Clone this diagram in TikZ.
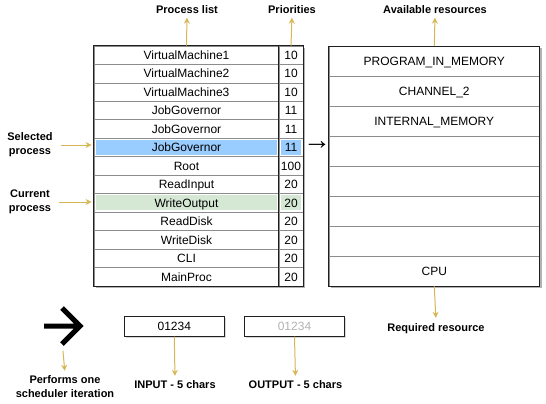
\documentclass[tikz,border=0pt]{standalone}
\usepackage{fontspec}
\setmainfont{Liberation Sans}
\usetikzlibrary{arrows.meta, backgrounds, shadows}

\definecolor{goldline}{HTML}{D6B656}
\definecolor{selblue}{HTML}{99CCFF}
\definecolor{curgreen}{HTML}{D5E8D4}
\definecolor{gridgray}{HTML}{8C8C8C}
\definecolor{framedark}{HTML}{1F1F1F}
\definecolor{faded}{HTML}{B3B3B3}

\tikzset{
  cell/.style={draw=gridgray, line width=0.8pt, minimum height=18.46pt, inner sep=0pt,
    text height=8.6pt, text depth=0pt, font=\fontsize{12}{14}\selectfont},
  namecell/.style={cell, minimum width=185pt},
  priocell/.style={cell, minimum width=24pt},
  rescell/.style={cell, minimum width=210pt, minimum height=29.94pt},
  tag/.style={font=\fontsize{11}{14}\selectfont\bfseries, align=center, inner sep=2pt,
    text height=7.9pt, text depth=0pt},
  tagpair/.style={font=\fontsize{11}{14}\selectfont\bfseries, align=center, inner sep=2pt},
  pointer/.style={goldline, line width=1pt, -{Stealth[length=6pt,width=6pt]}, shorten >=2pt},
  slot/.style={draw=framedark, line width=1pt, fill=white, minimum width=100pt, minimum height=19.5pt,
    inner sep=0pt, text height=8.6pt, text depth=0pt, font=\fontsize{12}{14}\selectfont,
    drop shadow={shadow xshift=1.5pt, shadow yshift=-1.5pt, opacity=0.3}},
  frame/.style={draw=framedark, line width=1pt},
  hilite/.style={minimum height=15pt, inner sep=0pt},
}

\begin{document}
\begin{tikzpicture}[x=1pt,y=-1pt]
\useasboundingbox (0,0) rectangle (546,404);
\foreach \pname/\pval [count=\i] in {VirtualMachine1/10, VirtualMachine2/10, VirtualMachine3/10,
    JobGovernor/11, JobGovernor/11, JobGovernor/11, Root/100, ReadInput/20, WriteOutput/20,
    ReadDisk/20, WriteDisk/20, CLI/20, MainProc/20} {
  \node[namecell] (p\i) at (186.5, {46+18.46*(\i-0.5)}) {\pname};
  \node[priocell] (v\i) at (291, {46+18.46*(\i-0.5)}) {\pval};
}
\foreach \rname [count=\i] in {PROGRAM\_IN\_MEMORY, CHANNEL\_2, INTERNAL\_MEMORY, {}, {}, {}, {}, CPU} {
  \node[rescell] (r\i) at (434.3, {46.5+29.94*(\i-0.5)}) {\rname};
}
\begin{scope}[on background layer]
\fill[black!30] ([xshift=2pt,yshift=-2pt]p1.north west) rectangle ([xshift=2pt,yshift=-2pt]v13.south east);
\fill[white] (p1.north west) rectangle (v13.south east);
\fill[black!30] ([xshift=2pt,yshift=-2pt]r1.north west) rectangle ([xshift=2pt,yshift=-2pt]r8.south east);
\fill[white] (r1.north west) rectangle (r8.south east);
\node[hilite, fill=selblue, minimum width=181pt] at (p6) {};
\node[hilite, fill=selblue, minimum width=20pt] at (v6) {};
\node[hilite, fill=curgreen, minimum width=181pt] at (p9) {};
\node[hilite, fill=curgreen, minimum width=20pt] at (v9) {};
\end{scope}
\draw[frame] (p1.north west) rectangle (v13.south east);
\draw[frame] (v1.north west) -- (v13.south west);
\draw[frame] (r1.north west) rectangle (r8.south east);

\node[font=\fontsize{28}{28}\selectfont, inner sep=0pt] (goarrow) at (317,146) {→};

\node[tag] (plist) at (187,9.5) {Process list};
\node[tag] (prios) at (292,9.5) {Priorities};
\node[tag] (avail) at (435,9.5) {Available resources};
\node[tagpair] (selp) at (30,145) {Selected\\process};
\node[tagpair] (curp) at (30,202) {Current\\process};
\node[tag] (reqres) at (436,327.5) {Required resource};

\draw[pointer] (p1.north) -- (plist.south);
\draw[pointer] (v1.north) -- (prios.south);
\draw[pointer] (r1.north) -- (avail.south);
\draw[pointer, shorten <=6pt] (selp.east) -- (selp.east -| p6.west);
\draw[pointer, shorten <=6pt] (curp.east) -- (curp.east -| p9.west);
\draw[pointer, shorten >=3.5pt] (r8.south) -- (reqres.north);

\node[minimum width=50pt, minimum height=50pt, inner sep=0pt] (iterbtn) at (63,326) {};
\draw[line width=5pt, line join=miter] (44,326) -- (80,326) (62,308) -- (80,326) -- (62,344);
\node[tagpair] (perf) at (65,387) {Performs one\\scheduler iteration};
\draw[pointer, shorten >=3pt] (iterbtn.south) -- (perf.north);

\node[slot] (inbox) at (174.3,326.3) {01234};
\node[slot, text=faded] (outbox) at (294.5,326.3) {01234};
\node[tag] (inlbl) at (175,385) {INPUT - 5 chars};
\node[tag] (outlbl) at (295.5,385) {OUTPUT - 5 chars};
\draw[pointer, shorten >=3pt] (inbox.south) -- (inlbl.north);
\draw[pointer, shorten >=3pt] (outbox.south) -- (outlbl.north);
\end{tikzpicture}
\end{document}
